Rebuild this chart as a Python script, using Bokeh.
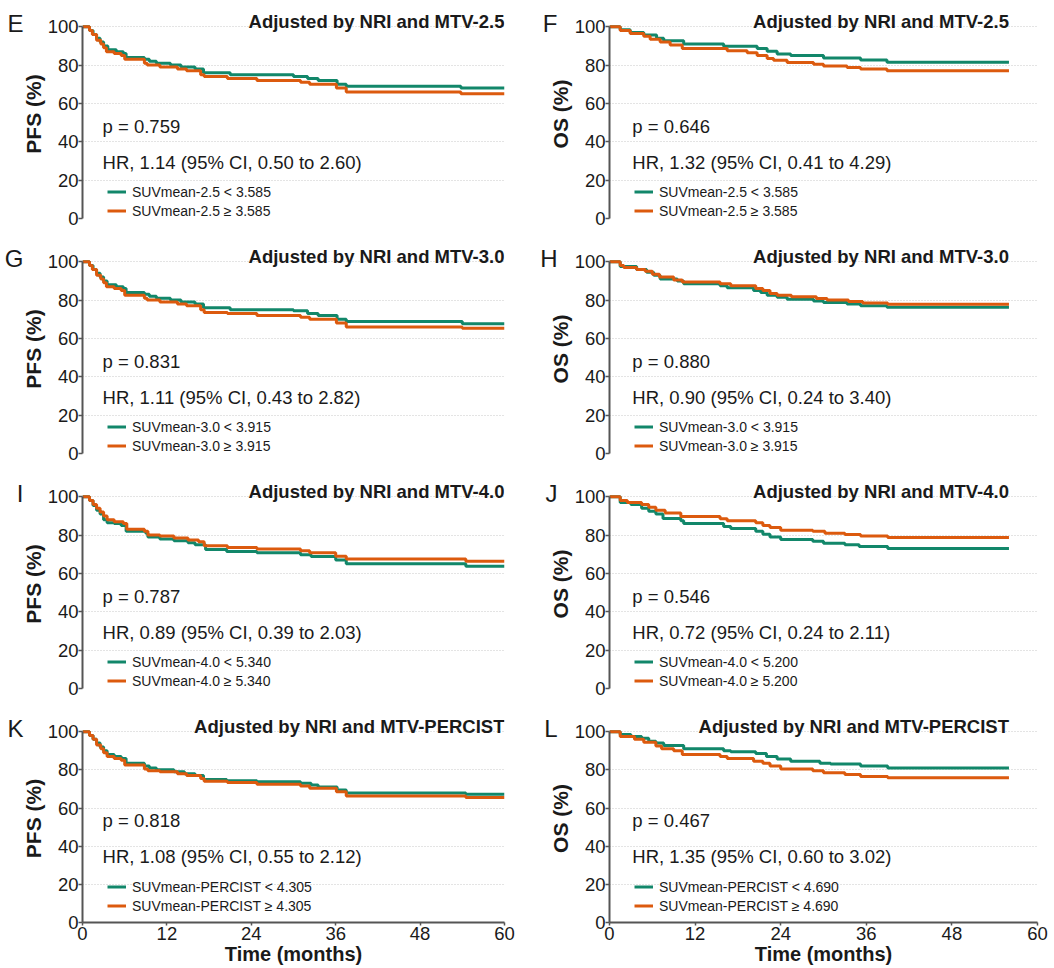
from bokeh.plotting import figure
from bokeh.layouts import column, row
from bokeh.models import Range1d, FixedTicker, Label, Legend, LegendItem, LinearAxis
from bokeh.embed import file_html
from bokeh.resources import INLINE

GREEN = "#12876a"
ORANGE = "#dc5a0e"
FONT = "Liberation Sans"

# ---------------- data (months, survival %) ----------------
# E : PFS, MTV-2.5
E_low_t = [0, 1.0, 1.5, 2.0, 2.5, 3.0, 3.6, 4.8, 5.8, 6.2, 8.8, 9.5, 10.5, 12.5, 14.0, 16.0, 17.2, 21.0, 30.0, 32.0, 33.5, 36.2, 37.5, 53.8, 60]
E_low_s = [100, 98, 96, 94, 92, 90, 88, 87, 86, 84, 83, 82, 81, 80, 79, 78, 76, 75, 74, 73, 72, 70, 69, 68, 68]
E_high_t = [0, 1.0, 1.4, 2.0, 2.6, 3.0, 3.4, 4.5, 5.5, 6.0, 8.8, 9.2, 11.0, 13.5, 14.8, 16.8, 17.3, 20.6, 24.8, 31.0, 32.3, 36.1, 37.5, 53.8, 60]
E_high_s = [100, 98, 96, 93, 91, 89, 87, 86, 85, 83, 81, 80, 79, 78, 77, 75, 74, 73, 72, 71, 70, 68, 66, 65, 65]

# F : OS, MTV-2.5
F_low_t = [0, 1.5, 2.9, 4.8, 6.6, 7.6, 10.4, 16.0, 20.7, 22.1, 23.5, 25.4, 30.0, 35.2, 38.9, 56]
F_low_s = [100, 98.5, 97, 95.7, 94, 92.7, 91, 89.8, 88.7, 87.2, 85.8, 85, 83.7, 82.7, 81.5, 81.5]
F_high_t = [0, 1.5, 2.9, 4.8, 5.7, 7.1, 8.5, 10.2, 16.5, 19.3, 20.7, 22.1, 23.0, 24.9, 28.6, 30.0, 33.3, 35.2, 38.9, 56]
F_high_s = [100, 98, 96.5, 95, 93.5, 92, 90.5, 88.6, 87.5, 86.5, 85, 83.5, 82.5, 81.3, 80.5, 79.5, 78.7, 78, 77, 77]

# G : PFS, MTV-3.0
G_low_t = [0, 1.0, 1.5, 2.0, 2.5, 3.0, 3.5, 4.8, 5.8, 6.2, 8.8, 9.5, 10.5, 12.5, 14.0, 16.0, 17.2, 21.0, 30.0, 32.0, 33.5, 36.2, 37.5, 54.0, 60]
G_low_s = [100, 98, 96, 94, 92, 90, 88, 87, 86, 84, 83, 82, 81, 80, 79, 78, 76, 75, 74.5, 73, 72, 70, 68.8, 67.7, 67.7]
G_high_t = [0, 1.0, 1.4, 2.0, 2.6, 3.0, 3.4, 4.5, 5.5, 6.0, 8.8, 9.2, 11.0, 13.5, 14.8, 16.8, 17.3, 20.6, 24.8, 31.0, 32.3, 36.1, 37.5, 54.0, 60]
G_high_s = [100, 98, 96, 93, 91, 89, 87, 86, 85, 82.5, 81, 80, 79, 78, 77, 75, 73.5, 73, 72, 71, 70, 68, 66, 65.3, 65.3]

# H : OS, MTV-3.0
H_low_t = [0, 1.5, 3.8, 5.2, 6.2, 7.1, 9.5, 10.4, 15.5, 16.5, 20.2, 21.2, 22.1, 23.5, 24.9, 28.6, 30.0, 33.3, 35.2, 38.9, 56]
H_low_s = [100, 97.5, 96, 94.5, 93, 91, 90, 88.5, 87.5, 86.5, 85, 84, 82.5, 81.5, 80.5, 79.5, 78.8, 78, 77, 76.3, 76.3]
H_high_t = [0, 1.5, 2.0, 3.8, 5.0, 6.0, 7.0, 9.0, 10.2, 15.5, 17.0, 20.5, 21.5, 22.5, 23.5, 25.5, 29.0, 30.5, 33.5, 35.5, 39.0, 56]
H_high_s = [100, 98, 97, 96, 95, 93.5, 92, 90.5, 89.5, 88.5, 87.5, 86, 85, 83.5, 82.5, 81.8, 80.8, 80, 79.3, 78.5, 77.8, 77.8]

# I : PFS, MTV-4.0
I_low_t = [0, 1.0, 1.5, 2.0, 2.5, 3.0, 3.5, 4.5, 5.5, 6.2, 9.0, 9.3, 11.0, 13.0, 15.0, 16.0, 17.5, 20.5, 24.8, 31.0, 32.5, 36.0, 37.5, 54.5, 60]
I_low_s = [100, 98, 95.5, 93, 91, 88, 86.5, 86, 85, 82, 81, 79, 78, 77, 76, 75, 72.5, 71.5, 70.8, 69.8, 68.8, 67, 65, 63.7, 63.7]
I_high_t = [0, 1.0, 1.5, 2.0, 2.5, 3.0, 3.5, 4.5, 5.8, 6.3, 8.8, 9.3, 11.0, 13.0, 15.0, 16.5, 17.3, 20.6, 24.8, 31.0, 32.3, 36.0, 37.5, 54.5, 60]
I_high_s = [100, 98, 96, 94, 92, 90, 88, 87, 86, 83, 82, 80, 79.5, 78.5, 77.5, 76.5, 74.5, 73.5, 72.8, 71.8, 70.8, 69, 67.5, 66.3, 66.3]

# J : OS, MTV-4.0
J_low_t = [0, 1.5, 3.0, 4.5, 5.5, 6.5, 7.5, 10.0, 10.4, 16.0, 17.0, 20.5, 21.5, 22.5, 24.0, 28.5, 30.0, 33.0, 35.0, 39.0, 56]
J_low_s = [100, 97, 96, 94, 92.5, 91, 88.7, 87.5, 86, 84.5, 83.5, 82, 80.5, 79, 77.7, 76.8, 75.8, 75, 74, 73, 73]
J_high_t = [0, 1.5, 2.5, 4.5, 5.5, 6.5, 7.8, 10.0, 15.5, 16.5, 20.5, 21.5, 22.5, 24.0, 28.5, 30.2, 33.0, 35.2, 39.0, 56]
J_high_s = [100, 98, 97, 96, 94.5, 93, 91.5, 89.7, 88.5, 87.5, 86.5, 85, 84, 82.5, 82, 81, 80.3, 79.5, 78.8, 78.8]

# K : PFS, MTV-PERCIST
K_low_t = [0, 1.0, 1.5, 2.0, 2.5, 3.0, 3.5, 4.5, 5.5, 6.2, 8.8, 9.5, 10.5, 13.0, 14.5, 16.0, 17.2, 20.5, 24.8, 31.0, 32.5, 33.5, 36.2, 37.5, 54.5, 60]
K_low_s = [100, 98, 96, 94, 92, 90, 88, 87, 86, 83.5, 82, 81, 80, 79, 78, 77, 75, 74.3, 73.7, 73, 72, 71, 69.5, 67.8, 67.2, 67.2]
K_high_t = [0, 1.0, 1.5, 2.0, 2.6, 3.0, 3.5, 4.5, 5.5, 6.0, 8.8, 9.3, 11.0, 13.5, 14.8, 16.8, 17.3, 20.6, 24.8, 31.0, 32.3, 36.1, 37.5, 54.5, 60]
K_high_s = [100, 98, 96, 93, 91, 89, 87, 86, 85, 82.5, 80.5, 79.5, 79, 78, 77, 75.5, 74, 73.3, 72.4, 71.5, 70.3, 68.5, 66.3, 65.5, 65.5]

# L : OS, MTV-PERCIST
L_low_t = [0, 1.5, 3.0, 4.5, 5.5, 6.5, 7.6, 10.4, 16.0, 17.0, 20.5, 22.0, 23.5, 25.4, 29.5, 31.0, 35.2, 39.0, 56]
L_low_s = [100, 98.5, 97.5, 96.5, 95, 94, 92.7, 91, 90, 89.5, 88.5, 87, 85.7, 84.5, 83.5, 83, 82, 81, 81]
L_high_t = [0, 1.5, 3.5, 4.8, 6.5, 7.3, 9.0, 10.2, 15.5, 16.5, 20.2, 21.5, 22.5, 24.0, 28.5, 30.0, 33.0, 35.2, 39.0, 56]
L_high_s = [100, 97.5, 96, 94.5, 92.5, 91, 90, 88, 87, 86, 84.5, 83.5, 82, 80.5, 79.5, 78.5, 77.5, 76.5, 75.8, 75.8]

panel_letters = ["E", "F", "G", "H", "I", "J", "K", "L"]
panel_titles = ["Adjusted by NRI and MTV-2.5", "Adjusted by NRI and MTV-2.5",
                "Adjusted by NRI and MTV-3.0", "Adjusted by NRI and MTV-3.0",
                "Adjusted by NRI and MTV-4.0", "Adjusted by NRI and MTV-4.0",
                "Adjusted by NRI and MTV-PERCIST", "Adjusted by NRI and MTV-PERCIST"]
y_labels = ["PFS (%)", "OS (%)"] * 4
p_texts = ["p = 0.759", "p = 0.646", "p = 0.831", "p = 0.880",
           "p = 0.787", "p = 0.546", "p = 0.818", "p = 0.467"]
hr_texts = ["HR, 1.14 (95% CI, 0.50 to 2.60)", "HR, 1.32 (95% CI, 0.41 to 4.29)",
            "HR, 1.11 (95% CI, 0.43 to 2.82)", "HR, 0.90 (95% CI, 0.24 to 3.40)",
            "HR, 0.89 (95% CI, 0.39 to 2.03)", "HR, 0.72 (95% CI, 0.24 to 2.11)",
            "HR, 1.08 (95% CI, 0.55 to 2.12)", "HR, 1.35 (95% CI, 0.60 to 3.02)"]
legend_low = ["SUVmean-2.5 < 3.585", "SUVmean-2.5 < 3.585",
              "SUVmean-3.0 < 3.915", "SUVmean-3.0 < 3.915",
              "SUVmean-4.0 < 5.340", "SUVmean-4.0 < 5.200",
              "SUVmean-PERCIST < 4.305", "SUVmean-PERCIST < 4.690"]
legend_high = ["SUVmean-2.5 \u2265 3.585", "SUVmean-2.5 \u2265 3.585",
               "SUVmean-3.0 \u2265 3.915", "SUVmean-3.0 \u2265 3.915",
               "SUVmean-4.0 \u2265 5.340", "SUVmean-4.0 \u2265 5.200",
               "SUVmean-PERCIST \u2265 4.305", "SUVmean-PERCIST \u2265 4.690"]
curves = [(E_low_t, E_low_s, E_high_t, E_high_s), (F_low_t, F_low_s, F_high_t, F_high_s),
          (G_low_t, G_low_s, G_high_t, G_high_s), (H_low_t, H_low_s, H_high_t, H_high_s),
          (I_low_t, I_low_s, I_high_t, I_high_s), (J_low_t, J_low_s, J_high_t, J_high_s),
          (K_low_t, K_low_s, K_high_t, K_high_s), (L_low_t, L_low_s, L_high_t, L_high_s)]
x_ticks = [0, 12, 24, 36, 48, 60]
y_ticks = [0, 20, 40, 60, 80, 100]

AXIS_COLOR = "#555555"
TEXT_COLOR = "#1a1a1a"


def make_panel(i):
    col = i % 2
    rw = i // 2
    bottom = rw == 3
    left = col == 0
    top_b = 9 if rw == 0 else 1
    bot_b = 44 if bottom else 25
    H = top_b + 209 + bot_b
    p = figure(width=527, height=H, output_backend="svg", toolbar_location=None,
               x_range=Range1d(0, 60), y_range=Range1d(0, 109),
               x_axis_type="linear" if bottom else None,
               min_border_left=82, min_border_right=23 if left else 17,
               min_border_top=top_b, min_border_bottom=bot_b)
    p.outline_line_color = None
    p.xgrid.visible = False
    p.ygrid.grid_line_color = "#c8c8c8"
    p.ygrid.grid_line_dash = "1 2"
    p.ygrid.grid_line_width = 1

    ya = p.yaxis[0]
    ya.ticker = FixedTicker(ticks=y_ticks)
    ya.bounds = (0, 100)
    ya.axis_label = y_labels[i]
    ya.axis_label_text_font = FONT
    ya.axis_label_text_font_style = "bold"
    ya.axis_label_text_font_size = "21px"
    ya.axis_label_text_color = TEXT_COLOR
    ya.axis_label_standoff = 0
    ya.major_label_text_font = FONT
    ya.major_label_text_font_size = "18.5px"
    ya.major_label_text_color = TEXT_COLOR
    ya.major_label_standoff = 0
    ya.axis_line_color = AXIS_COLOR
    ya.axis_line_width = 2
    ya.major_tick_line_color = AXIS_COLOR
    ya.major_tick_line_width = 1.5
    ya.major_tick_out = 4
    ya.major_tick_in = 0
    ya.minor_tick_line_color = None

    # panel letter, drawn as the only tick label of an outer, otherwise empty axis
    letter_axis = LinearAxis(ticker=FixedTicker(ticks=[101.5]),
                             major_label_overrides={101.5: panel_letters[i]})
    letter_axis.axis_line_color = None
    letter_axis.major_tick_line_color = None
    letter_axis.minor_tick_line_color = None
    letter_axis.major_tick_out = 0
    letter_axis.major_tick_in = 0
    letter_axis.major_label_standoff = -5 if left else -12
    letter_axis.major_label_text_font = FONT
    letter_axis.major_label_text_font_size = "24px"
    letter_axis.major_label_text_color = TEXT_COLOR
    p.add_layout(letter_axis, "left")

    if bottom:
        xa = p.xaxis[0]
        xa.ticker = FixedTicker(ticks=x_ticks)
        xa.bounds = (0, 60)
        xa.axis_label = "Time (months)"
        xa.axis_label_text_font = FONT
        xa.axis_label_text_font_style = "bold"
        xa.axis_label_text_font_size = "20px"
        xa.axis_label_text_color = TEXT_COLOR
        xa.axis_label_standoff = 0
        xa.major_label_text_font = FONT
        xa.major_label_text_font_size = "18.5px"
        xa.major_label_text_color = TEXT_COLOR
        xa.major_label_standoff = 1
        xa.axis_line_color = AXIS_COLOR
        xa.axis_line_width = 2
        xa.major_tick_line_color = AXIS_COLOR
        xa.major_tick_line_width = 1.5
        xa.major_tick_out = 3
        xa.major_tick_in = 0
        xa.minor_tick_line_color = None

    lt, ls, ht, hs = curves[i]
    r_low = p.step(lt, ls, mode="after", line_color=GREEN, line_width=3)
    r_high = p.step(ht, hs, mode="after", line_color=ORANGE, line_width=3)

    # annotations
    end_x = 60 if left else 56
    p.add_layout(Label(x=end_x, y=102.85, text=panel_titles[i], text_align="right",
                       text_baseline="middle", text_font=FONT, text_font_style="bold",
                       text_font_size="18.5px", text_color=TEXT_COLOR))
    dy = 5.6 if bottom else 0.0
    tx = 2.85 if left else 3.2
    p.add_layout(Label(x=tx, y=48.1 + dy, text=p_texts[i], text_baseline="middle",
                       text_font=FONT, text_font_size="18.5px", text_color=TEXT_COLOR))
    p.add_layout(Label(x=tx, y=28.95 + dy, text=hr_texts[i], text_baseline="middle",
                       text_font=FONT, text_font_size="18.5px", text_color=TEXT_COLOR))

    leg = Legend(items=[LegendItem(label=legend_low[i], renderers=[r_low]),
                        LegendItem(label=legend_high[i], renderers=[r_high])],
                 location=(25, 7 if bottom else -2))
    leg.padding = 0
    leg.margin = 0
    leg.spacing = 0
    leg.border_line_color = None
    leg.background_fill_alpha = 0
    leg.glyph_width = 19
    leg.glyph_height = 19
    leg.label_height = 19
    leg.label_standoff = 6
    leg.label_text_font = FONT
    leg.label_text_font_size = "14px"
    leg.label_text_color = TEXT_COLOR
    p.add_layout(leg)
    return p


panels = [make_panel(i) for i in range(8)]
layout = column(row(panels[0], panels[1]), row(panels[2], panels[3]),
                row(panels[4], panels[5]), row(panels[6], panels[7]))

open("out.html", "w").write(file_html(layout, INLINE))
